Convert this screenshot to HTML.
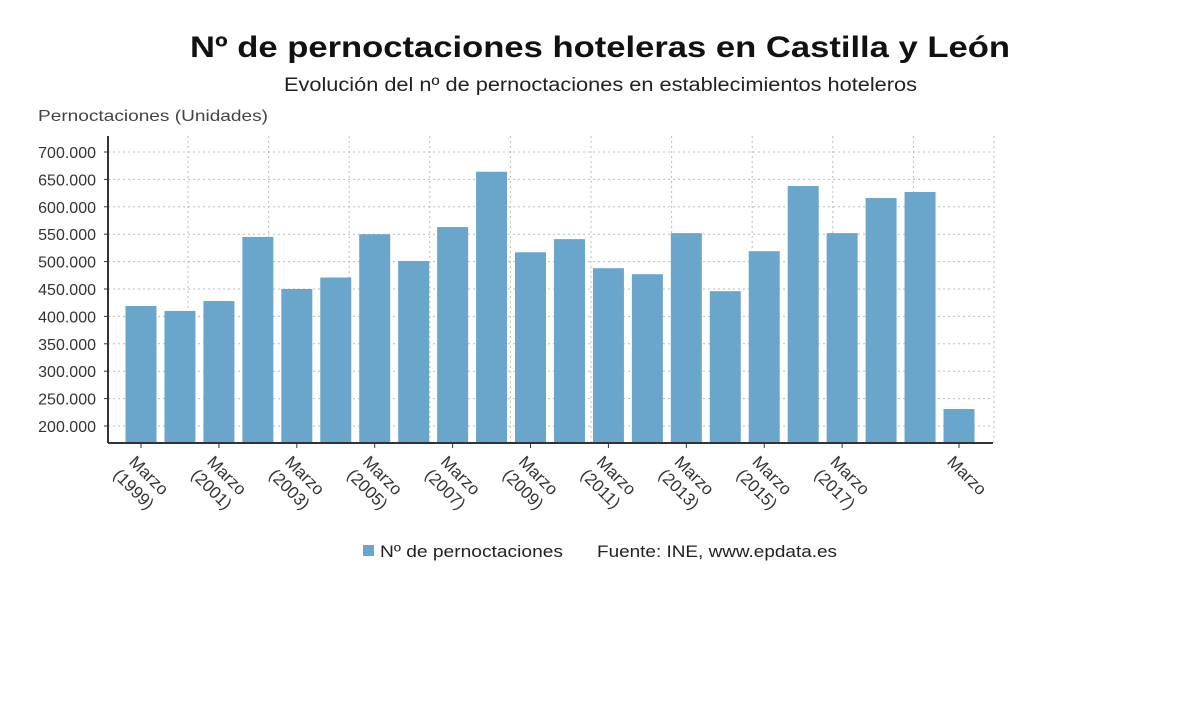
<!DOCTYPE html>
<html><head><meta charset="utf-8"><style>
body{margin:0;background:#fff;width:1200px;height:705px;overflow:hidden;font-family:"Liberation Sans",sans-serif}
</style></head><body>
<svg width="1200" height="705" style="font-family:'Liberation Sans',sans-serif">
<text x="190" y="57" textLength="820" lengthAdjust="spacingAndGlyphs" font-size="30" font-weight="bold" fill="#111">Nº de pernoctaciones hoteleras en Castilla y León</text>
<text x="284" y="91" textLength="633" lengthAdjust="spacingAndGlyphs" font-size="19" fill="#222">Evolución del nº de pernoctaciones en establecimientos hoteleros</text>
<text x="38" y="121" textLength="230" lengthAdjust="spacingAndGlyphs" font-size="16" fill="#444">Pernoctaciones (Unidades)</text>
<g id="grid"></g><g id="bars"></g><g id="axes"></g>
<g>
<rect x="363" y="545" width="11" height="11" fill="#6aa6cb"/>
<text x="380" y="557" textLength="183" lengthAdjust="spacingAndGlyphs" font-size="17" fill="#222">Nº de pernoctaciones</text>
<text x="597" y="557" textLength="240" lengthAdjust="spacingAndGlyphs" font-size="17" fill="#222">Fuente: INE, www.epdata.es</text>
</g>
</svg>
<script>
const years=[1999,2000,2001,2002,2003,2004,2005,2006,2007,2008,2009,2010,2011,2012,2013,2014,2015,2016,2017,2018,2019,2020];
const values=[419000,410000,428000,545000,450000,471000,550000,501000,563000,664000,517000,541000,488000,477000,552000,446000,519000,638000,552000,616000,627000,231000];
const yTicks=[200000,250000,300000,350000,400000,450000,500000,550000,600000,650000,700000];
const tickLabels=["200.000","250.000","300.000","350.000","400.000","450.000","500.000","550.000","600.000","650.000","700.000"];
const NS="http://www.w3.org/2000/svg";
const x0=108,x1=993,yBase=443;
const y=v=>426-(v-200000)*274/500000;
const step=(959-141)/21;
const xc=i=>141+i*step;
const bw=31;
const grid=document.getElementById('grid'),bars=document.getElementById('bars'),axes=document.getElementById('axes');
function mk(tag,attrs,parent){const e=document.createElementNS(NS,tag);for(const k in attrs)e.setAttribute(k,attrs[k]);parent.appendChild(e);return e;}
yTicks.forEach((t,i)=>{
 const l=mk('line',{x1:x0,x2:x1,y1:y(t),y2:y(t),stroke:'#bbb','stroke-dasharray':'2,3'},grid);
 
 
 const tx=mk('text',{x:96,y:y(t)+6,'text-anchor':'end','font-size':'16',fill:'#333'},axes);
 tx.textContent=tickLabels[i];
 
 
 mk('line',{x1:x0-4,x2:x0,y1:y(t),y2:y(t),stroke:'#333'},axes);
});
for(let k=0;k<=10;k++){
 const gx=188+k*80.6;
 const l=mk('line',{x1:gx,x2:gx,y1:136,y2:yBase,stroke:'#bbb','stroke-dasharray':'2,3'},grid);
 
 
}
values.forEach((v,i)=>{
 const r=mk('rect',{x:xc(i)-bw/2,y:y(v),width:bw,height:yBase-y(v),fill:'#6aa6cb'},bars);
 
 
});
const ya=mk('line',{x1:x0,x2:x0,y1:136,y2:yBase,stroke:'#333','stroke-width':2},axes);


const xa=mk('line',{x1:x0,x2:x1,y1:yBase,y2:yBase,stroke:'#333','stroke-width':2},axes);


years.forEach((yr,i)=>{
 if(!(i%2===0 && i<19) && i!==years.length-1) return;
 const cx=xc(i);
 mk('line',{x1:cx,x2:cx,y1:yBase,y2:yBase+5,stroke:'#333'},axes);
 const t=mk('text',{transform:`translate(${cx-2},${yBase+9}) rotate(45)`,'font-size':'17',fill:'#333'},axes);
 
 
 const a=mk('tspan',{x:0,dy:'0.9em'},t);a.textContent='Marzo';
 if(i!==years.length-1){const b=mk('tspan',{x:-2,dy:'1.2em'},t);b.textContent='('+yr+')';}
});
</script>
</body></html>
